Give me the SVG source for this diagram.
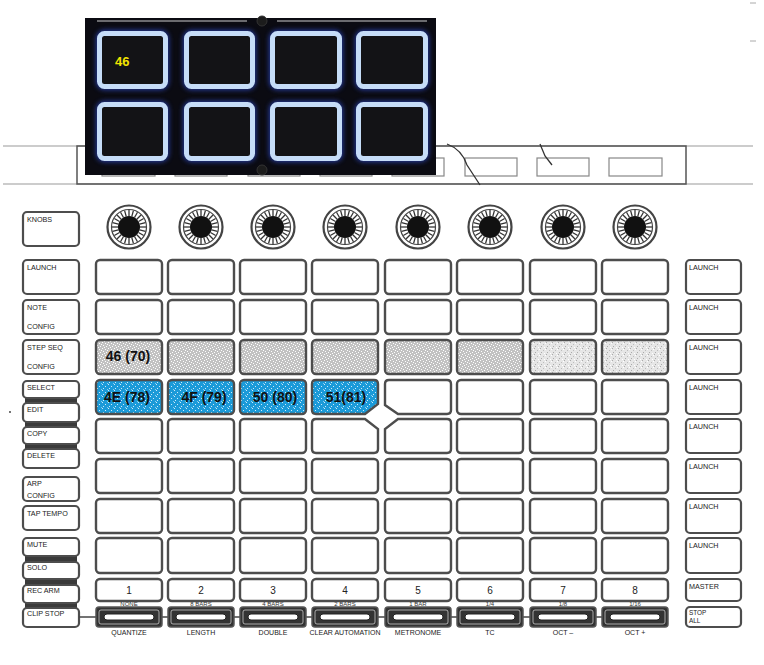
<svg xmlns="http://www.w3.org/2000/svg" width="764" height="665" viewBox="0 0 764 665">
<defs>
<style>
.lbl{font-family:"Liberation Sans",Arial,sans-serif;font-size:7.2px;fill:#222}
.lbs{font-family:"Liberation Sans",Arial,sans-serif;font-size:6.4px;fill:#222}
.sm{font-family:"Liberation Sans",Arial,sans-serif;font-size:6px;fill:#333;text-anchor:middle}
.bot{font-family:"Liberation Sans",Arial,sans-serif;font-size:7px;fill:#222;text-anchor:middle}
.num{font-family:"Liberation Sans",Arial,sans-serif;font-size:10px;fill:#222;text-anchor:middle}
.big{font-family:"Liberation Sans",Arial,sans-serif;font-size:14px;font-weight:bold;fill:#111;text-anchor:middle}
.btn{fill:#fff;stroke:#4d4d4d;stroke-width:2.2}
.pad{fill:#fff;stroke:#4d4d4d;stroke-width:2.4}
.gpad{fill:url(#gray);stroke:#4d4d4d;stroke-width:2.4}
.lpad{fill:url(#lgray);stroke:#4d4d4d;stroke-width:2.4}
.bpad{fill:url(#blue);stroke:#4d4d4d;stroke-width:2.4}
.bar{fill:#333;stroke:#555;stroke-width:1.5}
.barin{fill:#fff;stroke:#222;stroke-width:1}
.strip{fill:#3a3a3a}
.ppad{fill:#131316;stroke:#c6ddf8;stroke-width:5}
.glow{fill:none;stroke:#2f4ccc;stroke-width:7;opacity:0.75;filter:url(#blur)}
.dev{fill:none;stroke:#999;stroke-width:1.2}
</style>
<pattern id="gray" width="6" height="6" patternUnits="userSpaceOnUse">
<rect width="6" height="6" fill="#c2c2c2"/>
<rect x="0" y="0" width="1" height="1" fill="#fff"/><rect x="3" y="1" width="1" height="1" fill="#fff"/>
<rect x="1" y="3" width="1" height="1" fill="#fff"/><rect x="4" y="4" width="1" height="1" fill="#fff"/>
<rect x="5" y="2" width="1" height="1" fill="#fff"/><rect x="2" y="5" width="1" height="1" fill="#fff"/>
</pattern>
<pattern id="lgray" width="6" height="6" patternUnits="userSpaceOnUse">
<rect width="6" height="6" fill="#e6e6e6"/>
<rect x="0" y="0" width="1" height="1" fill="#aaa"/><rect x="3" y="2" width="1" height="1" fill="#bbb"/>
<rect x="1" y="4" width="1" height="1" fill="#aaa"/><rect x="4" y="5" width="1" height="1" fill="#fff"/>
<rect x="5" y="1" width="1" height="1" fill="#fff"/>
</pattern>
<pattern id="blue" width="6" height="6" patternUnits="userSpaceOnUse">
<rect width="6" height="6" fill="#1b9ad8"/>
<rect x="0" y="0" width="1" height="1" fill="#cfeaf8"/><rect x="3" y="2" width="1" height="1" fill="#cfeaf8"/>
<rect x="1" y="4" width="1" height="1" fill="#cfeaf8"/><rect x="5" y="5" width="1" height="1" fill="#8ccbec"/>
</pattern>
<filter id="blur" x="-20%" y="-20%" width="140%" height="140%"><feGaussianBlur stdDeviation="2.5"/></filter>
<g id="knob">
<circle r="21.5" fill="#fff" stroke="#444" stroke-width="2.2"/>
<circle r="17.5" fill="none" stroke="#444" stroke-width="1.2"/>
<g stroke="#333" stroke-width="1.3">
<line x1="0" y1="-11" x2="0" y2="-17"/><line x1="0" y1="11" x2="0" y2="17"/>
<line x1="-11" y1="0" x2="-17" y2="0"/><line x1="11" y1="0" x2="17" y2="0"/>
<line x1="5.5" y1="-9.5" x2="8.5" y2="-14.7"/><line x1="-5.5" y1="-9.5" x2="-8.5" y2="-14.7"/>
<line x1="5.5" y1="9.5" x2="8.5" y2="14.7"/><line x1="-5.5" y1="9.5" x2="-8.5" y2="14.7"/>
<line x1="9.5" y1="-5.5" x2="14.7" y2="-8.5"/><line x1="-9.5" y1="-5.5" x2="-14.7" y2="-8.5"/>
<line x1="9.5" y1="5.5" x2="14.7" y2="8.5"/><line x1="-9.5" y1="5.5" x2="-14.7" y2="8.5"/>
<line x1="2.8" y1="-10.6" x2="4.4" y2="-16.4"/><line x1="-2.8" y1="-10.6" x2="-4.4" y2="-16.4"/>
<line x1="2.8" y1="10.6" x2="4.4" y2="16.4"/><line x1="-2.8" y1="10.6" x2="-4.4" y2="16.4"/>
<line x1="10.6" y1="-2.8" x2="16.4" y2="-4.4"/><line x1="-10.6" y1="-2.8" x2="-16.4" y2="-4.4"/>
<line x1="10.6" y1="2.8" x2="16.4" y2="4.4"/><line x1="-10.6" y1="2.8" x2="-16.4" y2="4.4"/>
<line x1="7.8" y1="-7.8" x2="12" y2="-12"/><line x1="-7.8" y1="-7.8" x2="-12" y2="-12"/>
<line x1="7.8" y1="7.8" x2="12" y2="12"/><line x1="-7.8" y1="7.8" x2="-12" y2="12"/>
</g>
<circle r="11" fill="#111"/>
</g>
</defs>
<rect width="764" height="665" fill="#fff"/>

<g id="device-top">
<line class="dev" x1="3" y1="146" x2="753" y2="146"/>
<line class="dev" x1="3" y1="184" x2="753" y2="184"/>
<rect x="77" y="146" width="609" height="38" fill="none" stroke="#555" stroke-width="1.5"/>
<g fill="none" stroke="#888" stroke-width="1.2">
<rect x="102" y="158" width="53" height="18"/><rect x="175" y="158" width="52" height="18"/>
<rect x="248" y="158" width="52" height="18"/><rect x="320" y="158" width="52" height="18"/>
<rect x="392" y="158" width="52" height="18"/><rect x="465" y="158" width="52" height="18"/>
<rect x="537" y="158" width="52" height="18"/><rect x="609" y="158" width="53" height="18"/>
</g>
<path d="M447,144 C458,148 464,156 467,165 L480,185" fill="none" stroke="#333" stroke-width="1.3"/>
<path d="M540,144 L545,156 L552,165" fill="none" stroke="#333" stroke-width="1.3"/>
<line x1="750" y1="3" x2="756" y2="3" stroke="#aaa" stroke-width="1"/>
<line x1="750" y1="41" x2="756" y2="41" stroke="#aaa" stroke-width="1"/>
<circle cx="10" cy="412" r="0.9" fill="#333"/>
</g>

<g id="photo">
<rect x="85" y="18" width="351" height="157" fill="#0b0b12"/>
<line x1="97" y1="21" x2="247" y2="21" stroke="#ccc" stroke-width="1"/>
<line x1="277" y1="21" x2="427" y2="21" stroke="#ccc" stroke-width="1"/>
<circle cx="262" cy="21" r="5" fill="#1c1c1c" stroke="#333"/>
<circle cx="262" cy="170" r="5" fill="#1c1c1c" stroke="#333"/>
<rect class="glow" x="99.5" y="33.5" width="66" height="53" rx="5"/>
<rect class="glow" x="186.5" y="33.5" width="66" height="53" rx="5"/>
<rect class="glow" x="272.5" y="33.5" width="67" height="53" rx="5"/>
<rect class="glow" x="358.5" y="33.5" width="67" height="53" rx="5"/>
<rect class="glow" x="99.5" y="104.5" width="66" height="54" rx="5"/>
<rect class="glow" x="186.5" y="104.5" width="66" height="54" rx="5"/>
<rect class="glow" x="272.5" y="104.5" width="67" height="54" rx="5"/>
<rect class="glow" x="358.5" y="104.5" width="67" height="54" rx="5"/>
<rect class="ppad" x="99.5" y="33.5" width="66" height="53" rx="5"/>
<rect class="ppad" x="186.5" y="33.5" width="66" height="53" rx="5"/>
<rect class="ppad" x="272.5" y="33.5" width="67" height="53" rx="5"/>
<rect class="ppad" x="358.5" y="33.5" width="67" height="53" rx="5"/>
<rect class="ppad" x="99.5" y="104.5" width="66" height="54" rx="5"/>
<rect class="ppad" x="186.5" y="104.5" width="66" height="54" rx="5"/>
<rect class="ppad" x="272.5" y="104.5" width="67" height="54" rx="5"/>
<rect class="ppad" x="358.5" y="104.5" width="67" height="54" rx="5"/>
<text x="115" y="66" font-family="Liberation Sans,Arial,sans-serif" font-size="13" font-weight="bold" fill="#f2e400">46</text>
</g>

<g id="knobs">
<use href="#knob" x="129" y="227"/><use href="#knob" x="201" y="227"/>
<use href="#knob" x="273" y="227"/><use href="#knob" x="345" y="227"/>
<use href="#knob" x="418" y="227"/><use href="#knob" x="490" y="227"/>
<use href="#knob" x="563" y="227"/><use href="#knob" x="635" y="227"/>
</g>

<g id="left-buttons">
<rect class="strip" x="25" y="396" width="52" height="9"/>
<rect class="strip" x="25" y="420" width="52" height="9"/>
<rect class="strip" x="25" y="442" width="52" height="9"/>
<rect class="strip" x="25" y="554" width="52" height="10"/>
<rect class="strip" x="25" y="577" width="52" height="10"/>
<rect class="strip" x="25" y="601" width="52" height="9"/>
<rect class="btn" x="23" y="212" width="56" height="34" rx="4"/><text class="lbl" x="27" y="222">KNOBS</text>
<rect class="btn" x="23" y="260" width="56" height="34" rx="4"/><text class="lbl" x="27" y="270">LAUNCH</text>
<rect class="btn" x="23" y="300" width="56" height="34" rx="4"/><text class="lbl" x="27" y="310">NOTE</text><text class="lbl" x="27" y="329">CONFIG</text>
<rect class="btn" x="23" y="340" width="56" height="34" rx="4"/><text class="lbl" x="27" y="350">STEP SEQ</text><text class="lbl" x="27" y="369">CONFIG</text>
<rect class="btn" x="23" y="381" width="56" height="17" rx="4"/><text class="lbl" x="27" y="390">SELECT</text>
<rect class="btn" x="23" y="403" width="56" height="19" rx="4"/><text class="lbl" x="27" y="412">EDIT</text>
<rect class="btn" x="23" y="427" width="56" height="17" rx="4"/><text class="lbl" x="27" y="436">COPY</text>
<rect class="btn" x="23" y="449" width="56" height="19" rx="4"/><text class="lbl" x="27" y="458">DELETE</text>
<rect class="btn" x="23" y="477" width="56" height="24" rx="4"/><text class="lbl" x="27" y="486">ARP</text><text class="lbl" x="27" y="498">CONFIG</text>
<rect class="btn" x="23" y="506" width="56" height="24" rx="4"/><text class="lbl" x="27" y="516">TAP TEMPO</text>
<rect class="btn" x="23" y="538" width="56" height="18" rx="4"/><text class="lbl" x="27" y="547">MUTE</text>
<rect class="btn" x="23" y="562" width="56" height="17" rx="4"/><text class="lbl" x="27" y="570">SOLO</text>
<rect class="btn" x="23" y="585" width="56" height="18" rx="4"/><text class="lbl" x="27" y="593">REC ARM</text>
<rect class="btn" x="23" y="608" width="56" height="19" rx="4"/><text class="lbl" x="27" y="616">CLIP STOP</text>
</g>

<g id="right-buttons">
<rect class="btn" x="686" y="260" width="55" height="34" rx="4"/><text class="lbl" x="689" y="270">LAUNCH</text>
<rect class="btn" x="686" y="300" width="55" height="34" rx="4"/><text class="lbl" x="689" y="310">LAUNCH</text>
<rect class="btn" x="686" y="340" width="55" height="34" rx="4"/><text class="lbl" x="689" y="350">LAUNCH</text>
<rect class="btn" x="686" y="380" width="55" height="34" rx="4"/><text class="lbl" x="689" y="390">LAUNCH</text>
<rect class="btn" x="686" y="419" width="55" height="34" rx="4"/><text class="lbl" x="689" y="429">LAUNCH</text>
<rect class="btn" x="686" y="459" width="55" height="34" rx="4"/><text class="lbl" x="689" y="469">LAUNCH</text>
<rect class="btn" x="686" y="499" width="55" height="34" rx="4"/><text class="lbl" x="689" y="509">LAUNCH</text>
<rect class="btn" x="686" y="538" width="55" height="35" rx="4"/><text class="lbl" x="689" y="548">LAUNCH</text>
<rect class="btn" x="686" y="579" width="55" height="22" rx="4"/><text class="lbl" x="689" y="589">MASTER</text>
<rect class="btn" x="686" y="607" width="55" height="20" rx="4"/><text class="lbs" x="689" y="614.5">STOP</text><text class="lbs" x="689" y="622.5">ALL</text>
</g>

<g id="grid">
<g id="row1">
<rect class="pad" x="96" y="260" width="66" height="34" rx="4"/><rect class="pad" x="168" y="260" width="66" height="34" rx="4"/>
<rect class="pad" x="240" y="260" width="66" height="34" rx="4"/><rect class="pad" x="312" y="260" width="66" height="34" rx="4"/>
<rect class="pad" x="385" y="260" width="66" height="34" rx="4"/><rect class="pad" x="457" y="260" width="66" height="34" rx="4"/>
<rect class="pad" x="530" y="260" width="66" height="34" rx="4"/><rect class="pad" x="602" y="260" width="66" height="34" rx="4"/>
</g>
<g id="row2">
<rect class="pad" x="96" y="300" width="66" height="34" rx="4"/><rect class="pad" x="168" y="300" width="66" height="34" rx="4"/>
<rect class="pad" x="240" y="300" width="66" height="34" rx="4"/><rect class="pad" x="312" y="300" width="66" height="34" rx="4"/>
<rect class="pad" x="385" y="300" width="66" height="34" rx="4"/><rect class="pad" x="457" y="300" width="66" height="34" rx="4"/>
<rect class="pad" x="530" y="300" width="66" height="34" rx="4"/><rect class="pad" x="602" y="300" width="66" height="34" rx="4"/>
</g>
<g id="row3">
<rect class="gpad" x="96" y="340" width="66" height="34" rx="4"/><rect class="gpad" x="168" y="340" width="66" height="34" rx="4"/>
<rect class="gpad" x="240" y="340" width="66" height="34" rx="4"/><rect class="gpad" x="312" y="340" width="66" height="34" rx="4"/>
<rect class="gpad" x="385" y="340" width="66" height="34" rx="4"/><rect class="gpad" x="457" y="340" width="66" height="34" rx="4"/>
<rect class="lpad" x="530" y="340" width="66" height="34" rx="4"/><rect class="lpad" x="602" y="340" width="66" height="34" rx="4"/>
<text class="big" x="128" y="361">46 (70)</text>
</g>
<g id="row4">
<rect class="bpad" x="96" y="380" width="66" height="34" rx="4"/><rect class="bpad" x="168" y="380" width="66" height="34" rx="4"/>
<rect class="bpad" x="240" y="380" width="66" height="34" rx="4"/>
<path class="bpad" d="M316,380 H374 Q378,380 378,384 V404 L365,414 H316 Q312,414 312,410 V384 Q312,380 316,380 Z"/>
<path class="pad" d="M389,380 H447 Q451,380 451,384 V410 Q451,414 447,414 H398 L385,405 V384 Q385,380 389,380 Z"/>
<rect class="pad" x="457" y="380" width="66" height="34" rx="4"/>
<rect class="pad" x="530" y="380" width="66" height="34" rx="4"/><rect class="pad" x="602" y="380" width="66" height="34" rx="4"/>
<text class="big" x="127" y="402">4E (78)</text>
<text class="big" x="204" y="402">4F (79)</text>
<text class="big" x="275" y="402">50 (80)</text>
<text class="big" x="346" y="402">51(81)</text>
</g>
<g id="row5">
<rect class="pad" x="96" y="419" width="66" height="34" rx="4"/><rect class="pad" x="168" y="419" width="66" height="34" rx="4"/>
<rect class="pad" x="240" y="419" width="66" height="34" rx="4"/>
<path class="pad" d="M316,419 H365 L378,429 V449 Q378,453 374,453 H316 Q312,453 312,449 V423 Q312,419 316,419 Z"/>
<path class="pad" d="M398,419 H447 Q451,419 451,423 V449 Q451,453 447,453 H389 Q385,453 385,449 V429 Z"/>
<rect class="pad" x="457" y="419" width="66" height="34" rx="4"/>
<rect class="pad" x="530" y="419" width="66" height="34" rx="4"/><rect class="pad" x="602" y="419" width="66" height="34" rx="4"/>
</g>
<g id="row6">
<rect class="pad" x="96" y="459" width="66" height="34" rx="4"/><rect class="pad" x="168" y="459" width="66" height="34" rx="4"/>
<rect class="pad" x="240" y="459" width="66" height="34" rx="4"/><rect class="pad" x="312" y="459" width="66" height="34" rx="4"/>
<rect class="pad" x="385" y="459" width="66" height="34" rx="4"/><rect class="pad" x="457" y="459" width="66" height="34" rx="4"/>
<rect class="pad" x="530" y="459" width="66" height="34" rx="4"/><rect class="pad" x="602" y="459" width="66" height="34" rx="4"/>
</g>
<g id="row7">
<rect class="pad" x="96" y="499" width="66" height="34" rx="4"/><rect class="pad" x="168" y="499" width="66" height="34" rx="4"/>
<rect class="pad" x="240" y="499" width="66" height="34" rx="4"/><rect class="pad" x="312" y="499" width="66" height="34" rx="4"/>
<rect class="pad" x="385" y="499" width="66" height="34" rx="4"/><rect class="pad" x="457" y="499" width="66" height="34" rx="4"/>
<rect class="pad" x="530" y="499" width="66" height="34" rx="4"/><rect class="pad" x="602" y="499" width="66" height="34" rx="4"/>
</g>
<g id="row8">
<rect class="pad" x="96" y="538" width="66" height="35" rx="4"/><rect class="pad" x="168" y="538" width="66" height="35" rx="4"/>
<rect class="pad" x="240" y="538" width="66" height="35" rx="4"/><rect class="pad" x="312" y="538" width="66" height="35" rx="4"/>
<rect class="pad" x="385" y="538" width="66" height="35" rx="4"/><rect class="pad" x="457" y="538" width="66" height="35" rx="4"/>
<rect class="pad" x="530" y="538" width="66" height="35" rx="4"/><rect class="pad" x="602" y="538" width="66" height="35" rx="4"/>
</g>
<g id="number-row">
<rect class="pad" x="96" y="579" width="66" height="22" rx="4"/><rect class="pad" x="168" y="579" width="66" height="22" rx="4"/>
<rect class="pad" x="240" y="579" width="66" height="22" rx="4"/><rect class="pad" x="312" y="579" width="66" height="22" rx="4"/>
<rect class="pad" x="385" y="579" width="66" height="22" rx="4"/><rect class="pad" x="457" y="579" width="66" height="22" rx="4"/>
<rect class="pad" x="530" y="579" width="66" height="22" rx="4"/><rect class="pad" x="602" y="579" width="66" height="22" rx="4"/>
<text class="num" x="129" y="594">1</text><text class="num" x="201" y="594">2</text>
<text class="num" x="273" y="594">3</text><text class="num" x="345" y="594">4</text>
<text class="num" x="418" y="594">5</text><text class="num" x="490" y="594">6</text>
<text class="num" x="563" y="594">7</text><text class="num" x="635" y="594">8</text>
<text class="sm" x="129" y="606">NONE</text><text class="sm" x="201" y="606">8 BARS</text>
<text class="sm" x="273" y="606">4 BARS</text><text class="sm" x="345" y="606">2 BARS</text>
<text class="sm" x="418" y="606">1 BAR</text><text class="sm" x="490" y="606">1/4</text>
<text class="sm" x="563" y="606">1/8</text><text class="sm" x="635" y="606">1/16</text>
</g>
</g>

<g id="connectors" stroke="#444" stroke-width="1.5">
<line x1="79" y1="617" x2="96" y2="617"/>
<line x1="162" y1="617" x2="168" y2="617"/><line x1="234" y1="617" x2="240" y2="617"/>
<line x1="306" y1="617" x2="312" y2="617"/><line x1="378" y1="617" x2="385" y2="617"/>
<line x1="451" y1="617" x2="457" y2="617"/><line x1="523" y1="617" x2="530" y2="617"/>
<line x1="596" y1="617" x2="602" y2="617"/>
</g>

<g id="clip-bars">
<rect class="bar" x="96" y="607" width="66" height="20" rx="3"/><rect class="bar" x="168" y="607" width="66" height="20" rx="3"/>
<rect class="bar" x="240" y="607" width="66" height="20" rx="3"/><rect class="bar" x="312" y="607" width="66" height="20" rx="3"/>
<rect class="bar" x="385" y="607" width="66" height="20" rx="3"/><rect class="bar" x="457" y="607" width="66" height="20" rx="3"/>
<rect class="bar" x="530" y="607" width="66" height="20" rx="3"/><rect class="bar" x="602" y="607" width="66" height="20" rx="3"/>
<g fill="none" stroke="#ddd" stroke-width="0.7">
<rect x="99" y="610" width="60" height="14" rx="2"/><rect x="171" y="610" width="60" height="14" rx="2"/>
<rect x="243" y="610" width="60" height="14" rx="2"/><rect x="315" y="610" width="60" height="14" rx="2"/>
<rect x="388" y="610" width="60" height="14" rx="2"/><rect x="460" y="610" width="60" height="14" rx="2"/>
<rect x="533" y="610" width="60" height="14" rx="2"/><rect x="605" y="610" width="60" height="14" rx="2"/>
</g>
<rect class="barin" x="104" y="614" width="50" height="6" rx="3"/><rect class="barin" x="176" y="614" width="50" height="6" rx="3"/>
<rect class="barin" x="248" y="614" width="50" height="6" rx="3"/><rect class="barin" x="320" y="614" width="50" height="6" rx="3"/>
<rect class="barin" x="393" y="614" width="50" height="6" rx="3"/><rect class="barin" x="465" y="614" width="50" height="6" rx="3"/>
<rect class="barin" x="538" y="614" width="50" height="6" rx="3"/><rect class="barin" x="610" y="614" width="50" height="6" rx="3"/>
<text class="bot" x="129" y="635">QUANTIZE</text><text class="bot" x="201" y="635">LENGTH</text>
<text class="bot" x="273" y="635">DOUBLE</text><text class="bot" x="345" y="635">CLEAR AUTOMATION</text>
<text class="bot" x="418" y="635">METRONOME</text><text class="bot" x="490" y="635">TC</text>
<text class="bot" x="563" y="635">OCT –</text><text class="bot" x="635" y="635">OCT +</text>
</g>
</svg>
